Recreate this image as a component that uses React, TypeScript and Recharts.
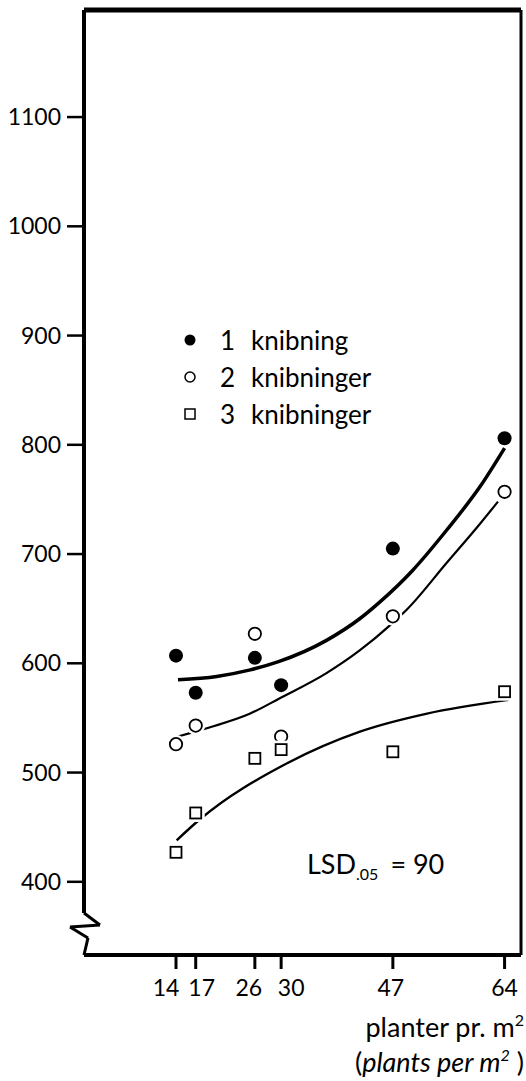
import {
  ComposedChart,
  Line,
  Scatter,
  XAxis,
  YAxis,
  ReferenceLine,
  Legend,
} from "recharts";

// planter pr. m2
const density = [14, 17, 26, 30, 47, 64];
const knib1 = [607, 573, 605, 580, 705, 806];
const knib2 = [526, 543, 627, 533, 643, 757];
const knib3 = [427, 463, 513, 521, 519, 574];

// fitted curves
const fit1X = [14.3, 20.2, 25.3, 29.6, 36.9, 42, 45, 50, 55.2, 60.3, 64];
const fit1Y = [585, 588, 594, 601.5, 621, 641, 656, 685, 722, 762, 797];
const fit2X = [14.3, 16.4, 19.2, 25.3, 29.8, 36.9, 42, 46.6, 49.1, 55.2, 60.3, 63];
const fit2Y = [533, 536.5, 541.5, 554, 568, 591, 612, 635, 649, 692, 728, 748];
const fit3X = [14.1, 17.6, 30.9, 42, 52.2, 64.6];
const fit3Y = [438, 457, 508.5, 537.5, 554, 566.5];

const xTicks = [14, 17, 26, 30, 47, 64];
const yTicks = [400, 500, 600, 700, 800, 900, 1000, 1100];
// the printed tick numbers sit a little off their ticks where they crowd
const xTickNudge: Record<number, number> = { 14: -10, 17: 6, 26: -6, 30: 10, 47: -2, 64: 0 };

const seriesNames = ["knibning", "knibninger", "knibninger"];

// broken y axis (zig-zag at the foot)
const breakX = [0, 2.43, -2.13, 0.61, 0];
const breakY = [371.4, 360.5, 358.6, 348.6, 333];

const X_MAX = 66.5;
const Y_MIN = 333;
const Y_MAX = 1198;

const toPts = (xs: number[], ys: number[]) => xs.map((x, i) => ({ x, y: ys[i] }));

const s1 = toPts(density, knib1);
const s2 = toPts(density, knib2);
const s3 = toPts(density, knib3);
const c1 = toPts(fit1X, fit1Y);
const c2 = toPts(fit2X, fit2Y);
const c3 = toPts(fit3X, fit3Y);

const font = "Lato, 'Open Sans', sans-serif";

const FilledDot = (p: any) => <circle cx={p.cx} cy={p.cy} r={7} fill="#000" />;
const OpenDot = (p: any) => (
  <g>
    <circle cx={p.cx} cy={p.cy} r={9.5} fill="#fff" />
    <circle cx={p.cx} cy={p.cy} r={6.2} fill="#fff" stroke="#000" strokeWidth={1.8} />
  </g>
);
const OpenSquare = (p: any) => (
  <g>
    <rect x={p.cx - 9} y={p.cy - 9} width={18} height={18} fill="#fff" />
    <rect x={p.cx - 5.5} y={p.cy - 5.5} width={11} height={11} fill="#fff" stroke="#000" strokeWidth={1.8} />
  </g>
);

const XTick = (p: any) => (
  <text
    x={p.x + (xTickNudge[p.payload.value] ?? 0)}
    y={p.y}
    dy="0.71em"
    textAnchor="middle"
    fontFamily={font}
    fontSize={23}
    fill="#000"
  >
    {p.payload.value}
  </text>
);

const legendMarks = [
  <circle cx={10} cy={10} r={5.5} fill="#000" />,
  <circle cx={10} cy={10} r={5} fill="#fff" stroke="#000" strokeWidth={1.5} />,
  <rect x={5} y={5} width={10} height={10} fill="#fff" stroke="#000" strokeWidth={1.5} />,
];

function LegendBox() {
  return (
    <div style={{ fontFamily: font, fontSize: 26, color: "#000" }}>
      {seriesNames.map((name, i) => (
        <div key={i} style={{ display: "flex", alignItems: "center", height: 37 }}>
          <svg width={20} height={20}>{legendMarks[i]}</svg>
          <span style={{ marginLeft: 20, width: 31 }}>{i + 1}</span>
          <span>{name}</span>
        </div>
      ))}
    </div>
  );
}

export default function App() {
  const tick = { fill: "#000", fontSize: 23, fontFamily: font };
  return (
    <div style={{ position: "absolute", left: 0, top: 0, background: "#fff" }}>
      <ComposedChart
        width={526}
        height={1081}
        margin={{ top: 10, right: 5, bottom: 0, left: 0 }}
      >
        <XAxis
          type="number"
          dataKey="x"
          domain={[0, X_MAX]}
          ticks={xTicks}
          interval={0}
          allowDataOverflow
          height={126}
          axisLine={{ stroke: "#000", strokeWidth: 4 }}
          tickLine={{ stroke: "#000", strokeWidth: 3 }}
          tickSize={14}
          tickMargin={11}
          tick={<XTick />}
        />
        <YAxis
          type="number"
          domain={[Y_MIN, Y_MAX]}
          ticks={yTicks}
          interval={0}
          allowDataOverflow
          width={84}
          axisLine={false}
          tickLine={{ stroke: "#000", strokeWidth: 2.5 }}
          tickSize={17}
          tickMargin={6}
          tick={tick}
        />
        <ReferenceLine y={Y_MAX} stroke="#000" strokeWidth={5} ifOverflow="visible" />
        <ReferenceLine x={X_MAX} stroke="#000" strokeWidth={3} ifOverflow="visible" />
        <ReferenceLine
          segment={[{ x: 0, y: Y_MAX }, { x: 0, y: breakY[0] }]}
          stroke="#000"
          strokeWidth={4}
          ifOverflow="visible"
        />
        {breakX.slice(1).map((x, i) => (
          <ReferenceLine
            key={i}
            segment={[
              { x: breakX[i], y: breakY[i] },
              { x, y: breakY[i + 1] },
            ]}
            stroke="#000"
            strokeWidth={3}
            ifOverflow="visible"
          />
        ))}
        <Line data={c1} dataKey="y" type="monotone" stroke="#000" strokeWidth={3.5} dot={false} isAnimationActive={false} />
        <Line data={c2} dataKey="y" type="monotone" stroke="#000" strokeWidth={2.2} dot={false} isAnimationActive={false} />
        <Line data={c3} dataKey="y" type="monotone" stroke="#000" strokeWidth={2.4} dot={false} isAnimationActive={false} />
        <Scatter data={s2} dataKey="y" shape={OpenDot} isAnimationActive={false} />
        <Scatter data={s3} dataKey="y" shape={OpenSquare} isAnimationActive={false} />
        <Scatter data={s1} dataKey="y" shape={FilledDot} isAnimationActive={false} />
        <Legend
          layout="vertical"
          align="center"
          verticalAlign="middle"
          content={() => <LegendBox />}
          wrapperStyle={{ left: 180, top: 321, width: "auto" }}
        />
        <text x={307} y={874} fontFamily={font} fontSize={27} fill="#000">
          LSD
          <tspan fontSize={16} dy={6}>.05</tspan>
          <tspan fontSize={27} dy={-6} dx={12}>= 90</tspan>
        </text>
        <text x={524} y={1037} textAnchor="end" fontFamily={font} fontSize={27} fill="#000">
          planter pr. m<tspan fontSize={16} dy={-11}>2</tspan>
        </text>
        <text x={524} y={1072} textAnchor="end" fontFamily={font} fontSize={27} fill="#000">
          (<tspan fontStyle="italic">plants per m</tspan>
          <tspan fontStyle="italic" fontSize={16} dy={-11}>2</tspan>
          <tspan dy={11}> )</tspan>
        </text>
      </ComposedChart>
    </div>
  );
}
